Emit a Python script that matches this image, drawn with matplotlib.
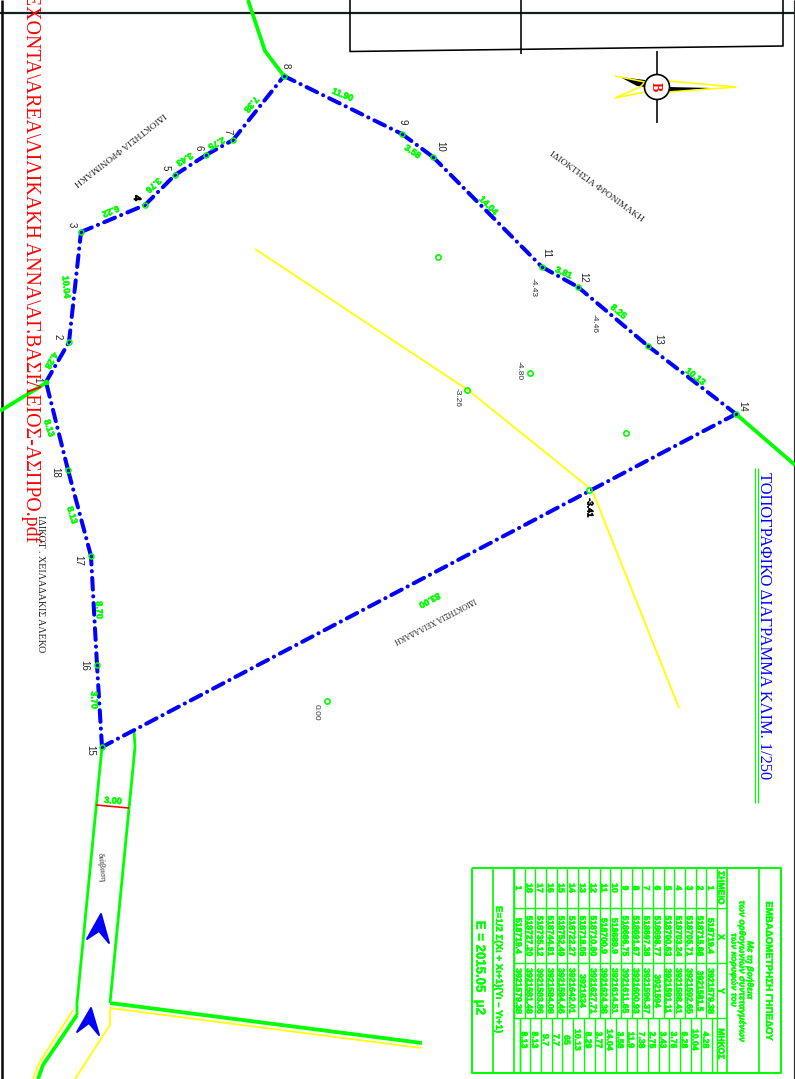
import matplotlib
matplotlib.use('Agg')
import matplotlib.pyplot as plt
import matplotlib.patheffects as pe
from matplotlib.patches import Polygon, Circle

SERIF = 'Liberation Serif'
SANS = 'Liberation Sans'
GREEN = '#00ff00'
BLUE = '#0000ff'
YELLOW = '#ffff00'
RED = '#ff0000'

# boundary vertices
point_ids = list(range(1, 19))
point_x = [46, 69, 81, 145, 175, 206, 233, 284, 402, 433, 542, 578, 648, 736, 102, 97, 91, 68]
point_y = [382, 342, 232, 205, 175, 155, 140, 76, 134, 157, 267, 287, 346, 414, 747, 665, 556, 470]

# table contents
table_x = ['518719.4', '518715.88', '518705.71', '518703.24', '518700.63', '518698.77', '518697.38',
           '518691.67', '518686.75', '518689.9', '518700.9', '518710.80', '518718.05', '518722.27',
           '518752.49', '518744.81', '518735.12', '518727.20', '518719.4']
table_y = ['3921579.38', '3921581.5', '3921592.65', '3921588.41', '3921591.11', '3921594', '3921596.37',
           '3921600.93', '3921611.65', '3921614.51', '3921624.38', '3921627.71', '3921634', '3921642.01',
           '3921584.46', '3921584.08', '3921583.86', '3921581.48', '3921579.38']
table_len = ['4.28', '10.04', '6.28', '3.76', '3.43', '2.75', '7.38', '11.9', '3.58', '14.04',
             '3.77', '8.29', '10.13', '65', '7.7', '9.7', '8.13', '8.13']
table_ids = [str(i) for i in point_ids] + ['1']

# spot heights
spot_x = [438, 530, 467, 626, 327, 589]
spot_y = [257, 373, 390, 433, 701, 490]

# side lengths: text, x, y, rotation
side_labels = [('4.28', 52, 361, 240), ('10.04', 67, 287, 275), ('6.22', 111, 212, 203),
               ('3.76', 154, 186, 222), ('3.43', 185, 160, 212), ('2.75', 217, 144, 208),
               ('7.38', 252, 105, 230), ('11.90', 343, 94, -22), ('3.58', 413, 151, -34),
               ('14.04', 489, 205, -45), ('3.81', 564, 272, -24), ('8.25', 619, 311, -40),
               ('10.13', 696, 376, -38), ('83.00', 430, 601, 208), ('8.70', 100, 610, 272),
               ('3.70', 95, 700, 272), ('8.13', 73, 515, 287), ('8.13', 50, 428, 287)]

height_labels = [('-4.43', 534, 288), ('-4.46', 595, 324), ('-4.80', 520, 371),
                 ('-3.26', 458, 397), ('0.00', 317, 712)]

number_x = [38, 59, 73, 138, 167, 200, 228, 287, 404, 441, 547, 584, 659, 743, 91, 85, 79, 56]
number_y = [380, 337, 225, 198, 168, 148, 132, 66, 122, 146, 253, 277, 339, 406, 750, 665, 560, 472]

# roads and neighbouring lines
road_lines = [([248, 265, 284], [0, 51, 76]),
              ([0, 46], [411, 383]),
              ([736, 795], [414, 465]),
              ([77, 43, 38], [1015, 1065, 1079])]
road_thin = [([134, 135, 110], [730, 747, 1003]),
             ([102, 77, 77], [747, 1003, 1015])]
yellow_lines = [([255, 468, 592, 679], [249, 390, 490, 708]),
                ([73, 39, 33], [1010, 1063, 1079]),
                ([110, 110, 75], [1009, 1025, 1079]),
                ([110, 421], [1008, 1048])]

fig = plt.figure(figsize=(7.95, 10.79), dpi=100)
ax = fig.add_axes([0, 0, 1, 1])
ax.set_xlim(0, 795)
ax.set_ylim(1079, 0)
ax.axis('off')


def line(xs, ys, color='k', px=1.0, z=2, **kw):
    ax.plot(xs, ys, color=color, lw=px * 0.72, zorder=z, solid_capstyle='butt', **kw)


def label(x, y, s, size=6, rot=270, color='k', family=SANS, weight='normal', style='normal', heavy=0):
    t = ax.text(x, y, s, fontsize=size, rotation=rot, color=color, family=family, weight=weight,
                style=style, ha='center', va='center_baseline', rotation_mode='anchor', zorder=6)
    if heavy:
        t.set_path_effects([pe.withStroke(linewidth=heavy, foreground=color)])


# sheet frame and title block
line([0, 795], [12.5, 12.5], '#102020', 2.2)
line([1.5, 1.5], [0, 1079], '#101010', 2.6)
line([794, 794], [0, 1079], '#303030', 1.2)
line([350, 350, 783, 783], [0, 51.5, 46, 0], 'k', 1.6)
line([521, 521], [0, 54], 'k', 1.6)

# file name stamp
ax.text(31, 542, 'ΕΧΟΝΤΑ\\AREA\\ΛΙΛΙΚΑΚΗ ΑΝΝΑ\\ΑΓ.ΒΑΣΙΛΕΙΟΣ-ΑΣΠΡΟ.pdf', fontsize=14.3, rotation=270,
        color=RED, family=SERIF, ha='center', va='bottom', zorder=5)

for xs, ys in yellow_lines:
    line(xs, ys, YELLOW, 1.8)
for xs, ys in road_lines:
    line(xs, ys, GREEN, 3.8, z=3)
for xs, ys in road_thin:
    line(xs, ys, GREEN, 2.8, z=3)
line([110, 422], [1003, 1043], GREEN, 3.8, z=3)
line([96, 129], [805, 808], RED, 1.6, z=4)
label(113, 800, '3.00', 6.5, 355, GREEN, weight='bold', heavy=0.4)

# boundary, each side dashed on its own
order = list(range(14)) + [14, 15, 16, 17, 0]
for a, b in zip(order[:-1], order[1:]):
    ax.plot([point_x[a], point_x[b]], [point_y[a], point_y[b]], color=BLUE, lw=2.9,
            dashes=(2.9, 1.65, 0.05, 1.65), dash_capstyle='round', zorder=4)
ax.plot(point_x[1:], point_y[1:], ls='none', marker='o', ms=3.6, mfc='none', mec=GREEN, mew=1.1, zorder=5)
ax.plot([point_x[0]], [point_y[0]], ls='none', marker='o', ms=3, color=GREEN, zorder=5)
ax.plot(spot_x, spot_y, ls='none', marker='o', ms=3.8, mfc='none', mec=GREEN, mew=1.2, zorder=5)

# labels on the plot
for n, x, y in zip(point_ids, number_x, number_y):
    if n == 4:
        label(x, y, str(n), 7.5, weight='bold', heavy=0.5)
    else:
        label(x, y, str(n), 7, color='#222222')
for s, x, y, r in side_labels:
    label(x, y, s, 6.5, r, GREEN, weight='bold', heavy=0.4)
for s, x, y in height_labels:
    label(x, y, s, 6, color='#333333')
label(590, 508, '-3.41', 6, weight='bold', heavy=0.4)

label(120, 149, 'ΙΔΙΟΚΤΗΣΙΑ ΦΡΟΝΙΜΑΚΗ', 6.8, 218, '#222222', SERIF)
label(597, 186, 'ΙΔΙΟΚΤΗΣΙΑ ΦΡΟΝΙΜΑΚΗ', 6.8, -36, '#222222', SERIF)
label(41, 584, 'ΙΔΙΚΟΤ . ΧΕΙΛΑΔΑΚΙΣ ΑΛΕΚΟ', 7.2, 270, '#222222', SERIF)
label(435, 621, 'ΙΔΙΟΚΤΗΣΙΑ ΧΕΙΛΑΔΑΚΗ', 5.6, 207.5, '#222222', SERIF)
label(102, 867, 'διάβαση', 6.2, 275, '#333333', SERIF)

# direction arrows
for tri in ([(101, 914), (87, 939), (99, 931), (109, 943)], [(91, 1008), (77, 1032), (89, 1023), (99, 1035)]):
    ax.add_patch(Polygon(tri, closed=True, fc=BLUE, ec=BLUE, lw=1.4, joinstyle='round', zorder=4))

# north arrow
line([657, 657], [51, 122.5], 'k', 1.6)
ax.add_patch(Polygon([(620, 77), (645, 80), (645, 87), (637, 86)], closed=True, fc='k', ec='none', zorder=3))
ax.add_patch(Polygon([(668, 87), (712, 88), (668, 92)], closed=True, fc='k', ec='none', zorder=3))
line([615, 645, 640, 615, 645], [76, 82, 87, 98, 92], YELLOW, 1.6, z=3)
line([668, 736, 668], [81, 87, 92], YELLOW, 1.6, z=3)
ax.add_patch(Circle((657, 87), 12.5, fc='white', ec='k', lw=1.2, zorder=4))
label(657, 87, 'Β', 10, 270, RED, SERIF, 'bold')

# drawing title
line([754.5, 754.5], [468, 803], GREEN, 1.2)
line([757.5, 757.5], [468, 803], GREEN, 1.2)
label(766, 626, 'ΤΟΠΟΓΡΑΦΙΚΟ ΔΙΑΓΡΑΜΜΑ ΚΛΙΜ. 1/250', 11.8, 270, BLUE, SERIF)

# area table
left, right, top, bottom = 472, 781, 868, 1073
col_a, col_b, col_c = 908, 963, 1018
rows_top, head_top = 717, 727
row_h = 10.68
lw_t = 1.4
line([left, right, right, left, left], [top, top, bottom, bottom, top], GREEN, 2)
for x in (493, 514, 727, 759):
    line([x, x], [top, bottom], GREEN, lw_t + 0.3)
for y in (col_a, col_b, col_c):
    line([514, 727], [y, y], GREEN, lw_t)
for i in range(20):
    x = rows_top - i * row_h
    line([x, x], [top, col_c], GREEN, lw_t)
for i in range(19):
    x = 712 - i * row_h
    line([x, x], [col_c, bottom], GREEN, lw_t)
line([717, 717], [col_c, bottom], GREEN, lw_t)
line([520, 520], [col_c, bottom], GREEN, lw_t)

t_kw = dict(size=6.2, rot=270, color=GREEN, weight='bold', heavy=0.4)
label(722, 888, 'ΣΗΜΕΙΟ', **t_kw)
label(722, 937, 'Χ', **t_kw)
label(722, 991, 'Υ', **t_kw)
label(722, 1044, 'ΜΗΚΟΣ', **t_kw)
for i, (pid, xv, yv) in enumerate(zip(table_ids, table_x, table_y)):
    x = rows_top - (i + 0.5) * row_h
    label(x, 888, pid, **t_kw)
    label(x, 936, xv, **t_kw)
    label(x, 991, yv, **t_kw)
for i, v in enumerate(table_len):
    label(712 - (i + 0.5) * row_h, 1040, v, **t_kw)

label(770, 971, 'ΕΜΒΑΔΟΜΕΤΡΗΣΗ ΓΗΠΕΔΟΥ', 7, 270, GREEN, weight='bold', heavy=0.3)
label(751, 970, 'Με τη βοήθεια', 6.3, 270, GREEN, weight='bold', style='italic', heavy=0.3)
label(743, 971, 'των ορθογωνίων συντεταγμένων', 6.5, 270, GREEN, weight='bold', style='italic', heavy=0.3)
label(735, 970, 'των κορυφών του', 6.3, 270, GREEN, weight='bold', style='italic', heavy=0.3)
label(500, 970, 'Ε=1/2 Σ(Χι + Χι+1)(Υι – Υι+1)', 7, 270, GREEN, weight='bold', heavy=0.3)
label(481, 968, 'Ε = 2015.05  μ2', 9.5, 270, GREEN, weight='bold', heavy=0.3)

fig.savefig('out.png', dpi=100)
